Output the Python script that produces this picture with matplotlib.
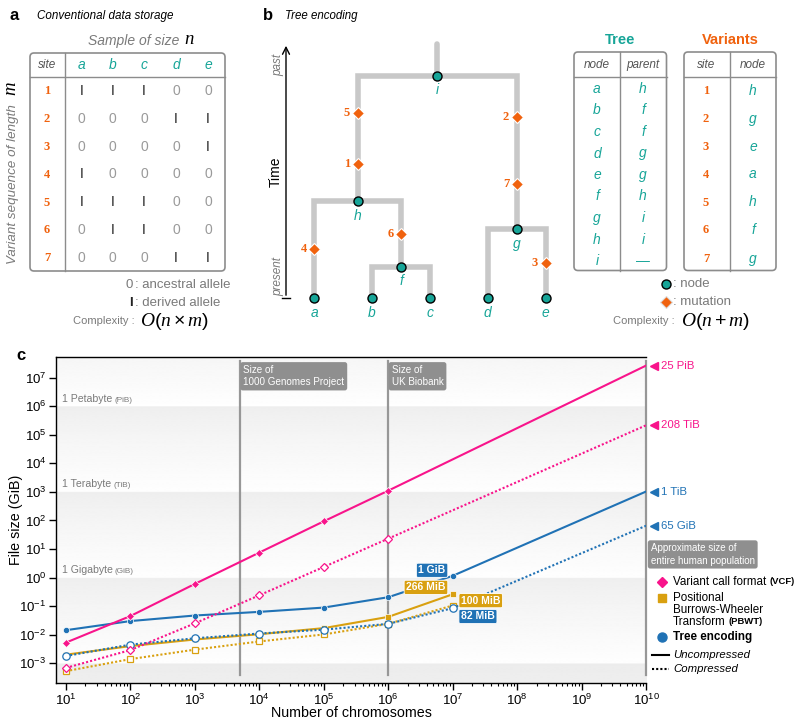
import numpy as np
import matplotlib.pyplot as plt
import matplotlib.transforms as mtransforms
from matplotlib.patches import FancyBboxPatch
from matplotlib.ticker import FixedLocator, NullLocator, NullFormatter

plt.rcParams['font.family'] = ['Liberation Sans', 'DejaVu Sans']
plt.rcParams['mathtext.fontset'] = 'custom'
plt.rcParams['mathtext.rm'] = 'Liberation Sans'
plt.rcParams['mathtext.it'] = 'Liberation Serif:italic'
plt.rcParams['mathtext.bf'] = 'Liberation Sans:bold'

TEAL = '#17a598'
ORANGE = '#f0620e'
PINK = '#f8148b'
BLUE = '#2072b5'
GOLD = '#d9a010'
FRAME = '#8c8c8c'
TGRAY = '#7a7a7a'
BRANCH = '#c8c8c8'

# panel a: genotype matrix
samples = ['a', 'b', 'c', 'd', 'e']
sites = ['1', '2', '3', '4', '5', '6', '7']
genotypes = [[1, 1, 1, 0, 0],
             [0, 0, 0, 1, 1],
             [0, 0, 0, 0, 1],
             [1, 0, 0, 0, 0],
             [1, 1, 1, 0, 0],
             [0, 1, 1, 0, 0],
             [0, 0, 0, 1, 1]]

# panel b: tree and tables
leaves = ['a', 'b', 'c', 'd', 'e']
internal = ['f', 'g', 'h', 'i']
tree_nodes = leaves + internal
tree_parents = ['h', 'f', 'f', 'g', 'g', 'h', 'i', 'i', '—']
node_times = [0, 0, 0, 0, 0, 1.0, 2.2, 3.1, 7.1]
root_top = 8.1
mut_nodes = ['h', 'g', 'e', 'a', 'h', 'f', 'g']
mut_times = [4.27, 5.78, 1.13, 1.57, 5.92, 2.03, 3.63]

# panel c: file sizes in GiB
chrom = [1e1, 1e2, 1e3, 1e4, 1e5, 1e6, 1e7]
vcf_unc = [0.0053, 0.045, 0.6, 7.5, 93, 1100]
vcf_cmp = [0.00069, 0.0029, 0.025, 0.24, 2.35, 23]
pbwt_unc = [0.0020, 0.0040, 0.0068, 0.0104, 0.017, 0.042, 0.26]
pbwt_cmp = [0.00053, 0.0014, 0.0030, 0.0058, 0.0102, 0.024, 0.105]
tree_unc = [0.0144, 0.030, 0.047, 0.063, 0.089, 0.205, 1.15]
tree_cmp = [0.0018, 0.0045, 0.0075, 0.011, 0.015, 0.024, 0.085]
# extrapolation to the whole human population
vcf_ext_x = [1e6, 1e10]
tree_ext_x = [1e7, 1e10]
vcf_unc_ext = [1100, 25 * 1024 ** 2]
vcf_cmp_ext = [23, 208 * 1024]
tree_unc_ext = [1.15, 1024]
tree_cmp_ext = [0.085, 65]
cohort_sizes = [5000, 1e6]
cohort_labels = ['Size of\n1000 Genomes Project', 'Size of\nUK Biobank']
population = 1e10
bands = [1e6, 1e3, 1e0]
band_names = [('1 Petabyte', '(PiB)'), ('1 Terabyte', '(TiB)'), ('1 Gigabyte', '(GiB)')]
x_ticks = [10.0 ** e for e in range(1, 11)]
y_ticks = [10.0 ** e for e in range(-3, 8)]

fig = plt.figure(figsize=(8, 7.26), dpi=100)
rect = [56 / 800, 1 - 682.7 / 726, 590 / 800, (682.7 - 357) / 726]
ylo, yhi = -3.68, 7.72

# gradient background bands of panel c
bg = fig.add_axes(rect)
ys = np.linspace(ylo, yhi, 800)
lv = np.empty_like(ys)
for k, y in enumerate(ys):
    if y >= 6:
        f = (yhi - y) / (yhi - 6)
        lv[k] = 0.964 + 0.034 * f
    elif y >= -3:
        top = -3 + 3 * np.floor((y + 3) / 3) + 3
        f = (top - y) / 3
        lv[k] = 0.932 + 0.064 * f ** 0.8
    else:
        f = (-3 - y) / (-3 - ylo)
        lv[k] = 0.925 + 0.01 * f
bg.imshow(lv[:, None], extent=[0, 1, ylo, yhi], origin='lower', aspect='auto',
          cmap='gray', vmin=0, vmax=1, interpolation='bilinear')
bg.set_xlim(0, 1)
bg.set_ylim(ylo, yhi)
bg.axis('off')

ax = fig.add_axes(rect)
ax.patch.set_visible(False)
ax.set_xscale('log')
ax.set_yscale('log')
ax.set_xlim(10 ** 0.845, 1e10)
ax.set_ylim(10 ** ylo, 10 ** yhi)

box_style = dict(boxstyle='round,pad=0.3,rounding_size=0.25', fc='#8f8f8f', ec='none')
for x, lab in zip(cohort_sizes, cohort_labels):
    ax.axvline(x, ymin=0.024, ymax=0.988, color='#979797', lw=1.6, zorder=1)
    ax.annotate(lab, xy=(x, 0.988), xycoords=('data', 'axes fraction'),
                xytext=(2.4, -3.0), textcoords='offset points', ha='left', va='top',
                color='white', fontsize=7.1, linespacing=1.3, bbox=box_style)
ax.axvline(population, ymin=0.024, ymax=0.988, color='#979797', lw=1.6, zorder=1, clip_on=False)
ax.annotate('Approximate size of\nentire human population', xy=(population, 0.441),
            xycoords=('data', 'axes fraction'), xytext=(3.4, -3.0), textcoords='offset points',
            ha='left', va='top', color='white', fontsize=7.0, linespacing=1.3,
            annotation_clip=False, bbox=box_style)

blend = mtransforms.blended_transform_factory(ax.transAxes, ax.transData)
for b, (name, unit) in zip(bands, band_names):
    t = ax.text(0.01, b * 10 ** 0.09, name, transform=blend, fontsize=7.6, color=TGRAY,
                ha='left', va='bottom')
    ax.annotate(unit, xy=(1, 0), xycoords=t, xytext=(1.5, 0), textcoords='offset points',
                fontsize=5.9, color=TGRAY, ha='left', va='bottom')

dots = (0, (1, 1))
ax.plot(vcf_ext_x, vcf_unc_ext, color=PINK, lw=1.5, zorder=3)
ax.plot(vcf_ext_x, vcf_cmp_ext, color=PINK, lw=1.5, ls=dots, zorder=3)
ax.plot(tree_ext_x, tree_unc_ext, color=BLUE, lw=1.5, zorder=3)
ax.plot(tree_ext_x, tree_cmp_ext, color=BLUE, lw=1.5, ls=dots, zorder=3)

ax.plot(chrom, pbwt_cmp, color=GOLD, lw=1.5, ls=dots, marker='s', ms=4.3,
        mfc='white', mec=GOLD, mew=0.9, zorder=4)
ax.plot(chrom, pbwt_unc, color=GOLD, lw=1.5, marker='s', ms=4, mec='white', mew=0.5, zorder=4)
ax.plot(chrom, tree_cmp, color=BLUE, lw=1.5, ls=dots, marker='o', ms=5.3,
        mfc='white', mec=BLUE, mew=0.9, zorder=5)
ax.plot(chrom, tree_unc, color=BLUE, lw=1.5, marker='o', ms=4.5, mec='white', mew=0.5, zorder=5)
ax.plot(chrom[:6], vcf_cmp, color=PINK, lw=1.5, ls=dots, marker='D', ms=4.5,
        mfc='white', mec=PINK, mew=0.9, zorder=5)
ax.plot(chrom[:6], vcf_unc, color=PINK, lw=1.5, marker='D', ms=4, mec='white', mew=0.5, zorder=5)

point_labels = [('1 GiB', tree_unc[-1], BLUE, 'right', (-5, 4)),
                ('266 MiB', pbwt_unc[-1], GOLD, 'right', (-5, 5)),
                ('100 MiB', pbwt_cmp[-1], GOLD, 'left', (6, 3.5)),
                ('82 MiB', tree_cmp[-1], BLUE, 'left', (6, -6))]
for lab, y, c, ha, off in point_labels:
    ax.annotate(lab, xy=(chrom[-1], y), xytext=off, textcoords='offset points',
                ha=ha, va='center', color='white', fontsize=7.5, fontweight='bold', zorder=6,
                bbox=dict(boxstyle='round,pad=0.2,rounding_size=0.15', fc=c, ec='white', lw=0.6))

end_labels = [('25 PiB', vcf_unc_ext[-1], PINK), ('208 TiB', vcf_cmp_ext[-1], PINK),
              ('1 TiB', tree_unc_ext[-1], BLUE), ('65 GiB', tree_cmp_ext[-1], BLUE)]
for lab, y, c in end_labels:
    ax.plot([1.013], [y], marker='<', ms=6, color=c, transform=blend, clip_on=False)
    ax.text(1.026, y, lab, transform=blend, color=c, fontsize=8.2, ha='left', va='center')

for s in ['left', 'bottom', 'top']:
    ax.spines[s].set_linewidth(1)
ax.spines['right'].set_visible(False)
ax.xaxis.set_major_locator(FixedLocator(x_ticks))
ax.xaxis.set_minor_locator(FixedLocator([m * t for t in x_ticks[:-1] for m in range(2, 10)]))
ax.xaxis.set_minor_formatter(NullFormatter())
ax.yaxis.set_major_locator(FixedLocator(y_ticks))
ax.yaxis.set_minor_locator(NullLocator())
ax.tick_params(which='major', length=5, width=1, labelsize=9.5, direction='out', pad=2)
ax.tick_params(which='minor', length=2.5, width=0.8, direction='out')
ax.set_xlabel('Number of chromosomes', fontsize=10.3)
ax.set_ylabel('File size (GiB)', fontsize=10.3)
ax.xaxis.set_label_coords(0.5, -0.072)
ax.yaxis.set_label_coords(-0.056, 0.5)

# overlay in pixel coordinates for panels a and b, and legend of c
ov = fig.add_axes([0, 0, 1, 1])
ov.set_xlim(0, 800)
ov.set_ylim(726, 0)
ov.axis('off')

def frame(x0, x1, y0, y1, head_y, col_x):
    ov.add_patch(FancyBboxPatch((x0, y0), x1 - x0, y1 - y0,
                                boxstyle='round,pad=0,rounding_size=4',
                                fc='none', ec=FRAME, lw=1.2))
    ov.plot([x0, x1], [head_y, head_y], color=FRAME, lw=1)
    ov.plot([col_x, col_x], [y0, y1], color=FRAME, lw=1)

serif_bold = dict(family='Liberation Serif', fontweight='bold')

# ---- panel a
ov.text(10, 16, 'a', fontsize=12, fontweight='bold', va='center')
ov.text(37, 16, 'Conventional data storage', fontsize=8.4, style='italic', va='center')
ov.text(183, 41, 'Sample of size ', fontsize=10, style='italic', color=TGRAY,
        ha='right', va='center')
ov.text(184, 40, '$n$', fontsize=13.5, ha='left', va='center')
ov.text(13, 184, 'Variant sequence of length', fontsize=9.6, style='italic', color=TGRAY,
        rotation=90, ha='center', va='center')
ov.text(12, 89, '$m$', fontsize=13.5, rotation=90, ha='center', va='center')
frame(30, 225, 53, 271, 77, 65)
ov.text(47, 65, 'site', fontsize=8.5, style='italic', color='#555555', ha='center', va='center')
col_x = [81.3, 112.7, 144, 176, 208]
row_y = [91, 119, 147, 174.5, 202.5, 230, 258]
for cx, s in zip(col_x, samples):
    ov.text(cx, 65, s, fontsize=10, style='italic', color=TEAL, ha='center', va='center')
for ry, site, row in zip(row_y, sites, genotypes):
    ov.text(47, ry, site, fontsize=9, color=ORANGE, ha='center', va='center', **serif_bold)
    for cx, g in zip(col_x, row):
        if g:
            ov.text(cx, ry, 'I', fontsize=10, color='#222222', ha='center', va='center')
        else:
            ov.text(cx, ry, '0', fontsize=10, color='#9a9a9a', ha='center', va='center')
ov.text(133, 285, '0', fontsize=9.5, color=TGRAY, ha='right', va='center')
ov.text(135, 285, ': ancestral allele', fontsize=9.5, color=TGRAY, ha='left', va='center')
ov.text(133, 303, 'I', fontsize=9.5, color='#222222', fontweight='bold', ha='right', va='center')
ov.text(135, 303, ': derived allele', fontsize=9.5, color=TGRAY, ha='left', va='center')
ov.text(135, 321, 'Complexity :', fontsize=8, color=TGRAY, ha='right', va='center')
ov.text(140, 322, r'$O(n \times m)$', fontsize=14, ha='left', va='center')

# ---- panel b: tree
ov.text(263, 16, 'b', fontsize=12, fontweight='bold', va='center')
ov.text(285, 16, 'Tree encoding', fontsize=8.3, style='italic', va='center')
ov.annotate('', xy=(286, 43), xytext=(286, 298),
            arrowprops=dict(arrowstyle='->,head_length=0.5,head_width=0.25', lw=1, color='black'))
ov.plot([282, 290], [298, 298], color='black', lw=1)
ov.text(278, 65, 'past', fontsize=8.5, style='italic', color=TGRAY, rotation=90,
        ha='center', va='center')
ov.text(278, 277, 'present', fontsize=8.5, style='italic', color=TGRAY, rotation=90,
        ha='center', va='center')
ov.text(276, 172, 'Time', fontsize=10, rotation=90, ha='center', va='center')

tr = mtransforms.Affine2D().scale(57.85, -31.3).translate(314.3, 298) + ov.transData
pos = {n: float(k) for k, n in enumerate(leaves)}
tim = dict(zip(tree_nodes, node_times))
par = dict(zip(tree_nodes, tree_parents))
for n in internal:
    kids = [k for k in tree_nodes if par[k] == n]
    pos[n] = np.mean([pos[k] for k in kids])
for n in tree_nodes:
    p = par[n]
    if p in pos:
        ov.plot([pos[n], pos[n], pos[p]], [tim[n], tim[p], tim[p]], transform=tr,
                color=BRANCH, lw=4, solid_joinstyle='miter', solid_capstyle='butt', zorder=2)
ov.plot([pos['i'], pos['i']], [tim['i'], root_top], transform=tr, color=BRANCH, lw=4,
        solid_capstyle='round', zorder=2)
ov.plot([pos[n] for n in tree_nodes], node_times, 'o', transform=tr, ms=6.5,
        mfc=TEAL, mec='black', mew=1, zorder=4)
for n in tree_nodes:
    ov.annotate(n, xy=(pos[n], tim[n]), xycoords=tr, xytext=(0, -10.5),
                textcoords='offset points', fontsize=10, style='italic', color=TEAL,
                ha='center', va='center')
mx = [pos[n] for n in mut_nodes]
ov.plot(mx, mut_times, 'D', transform=tr, ms=5.8, mfc=ORANGE, mec='white', mew=0.8, zorder=4)
for site, x, t in zip(sites, mx, mut_times):
    ov.annotate(site, xy=(x, t), xycoords=tr, xytext=(-5.5, 0), textcoords='offset points',
                fontsize=9, color=ORANGE, ha='right', va='center', **serif_bold)

# ---- panel b: tables
ov.text(620, 40, 'Tree', fontsize=10.5, fontweight='bold', color=TEAL, ha='center', va='center')
ov.text(730, 40, 'Variants', fontsize=10.5, fontweight='bold', color=ORANGE, ha='center', va='center')
frame(574, 666.5, 52, 270.5, 77, 620.3)
frame(684, 776, 52, 270.5, 77, 730)
for x, h in [(597, 'node'), (643, 'parent'), (706, 'site'), (753, 'node')]:
    ov.text(x, 65, h, fontsize=8.5, style='italic', color='#555555', ha='center', va='center')
tree_row_y = np.linspace(89, 261, len(tree_nodes))
for y, n, p in zip(tree_row_y, tree_nodes, tree_parents):
    ov.text(597, y, n, fontsize=10, style='italic', color=TEAL, ha='center', va='center')
    ov.text(643, y, p, fontsize=10, style='italic' if p != '—' else 'normal', color=TEAL,
            ha='center', va='center')
var_row_y = [91, 119.5, 147, 174.5, 202.5, 230, 258.5]
for y, s, n in zip(var_row_y, sites, mut_nodes):
    ov.text(706, y, s, fontsize=9, color=ORANGE, ha='center', va='center', **serif_bold)
    ov.text(753, y, n, fontsize=10, style='italic', color=TEAL, ha='center', va='center')
ov.plot([666], [284], 'o', ms=6.5, mfc=TEAL, mec='black', mew=1)
ov.text(673, 284, ': node', fontsize=9.5, color=TGRAY, ha='left', va='center')
ov.plot([666], [302], 'D', ms=5.8, mfc=ORANGE, mec='#dddddd', mew=0.8)
ov.text(673, 302, ': mutation', fontsize=9.5, color=TGRAY, ha='left', va='center')
ov.text(675, 321, 'Complexity :', fontsize=8, color=TGRAY, ha='right', va='center')
ov.text(681, 322, r'$O(n + m)$', fontsize=14, ha='left', va='center')

# ---- panel c label and legend
ov.text(16, 356, 'c', fontsize=12, fontweight='bold', va='center')
lx, tx, fs = 661.5, 673, 8.4
ov.plot([lx], [582], 'D', ms=5.5, color=PINK)
t = ov.text(tx, 582, 'Variant call format', fontsize=fs, va='center')
ov.annotate('(VCF)', xy=(1, 0.5), xycoords=t, xytext=(2, 0), textcoords='offset points',
            fontsize=6.8, fontweight='bold', va='center')
ov.plot([lx], [598], 's', ms=5.5, color=GOLD)
ov.text(tx, 598, 'Positional', fontsize=fs, va='center')
ov.text(tx, 610, 'Burrows-Wheeler', fontsize=fs, va='center')
t = ov.text(tx, 622, 'Transform', fontsize=fs, va='center')
ov.annotate('(PBWT)', xy=(1, 0.5), xycoords=t, xytext=(2, 0), textcoords='offset points',
            fontsize=6.8, fontweight='bold', va='center')
ov.plot([lx], [637], 'o', ms=6.5, color=BLUE)
ov.text(tx, 637, 'Tree encoding', fontsize=fs, fontweight='bold', va='center')
ov.plot([652, 669], [655, 655], color='black', lw=1.5)
ov.text(tx, 655, 'Uncompressed', fontsize=8.2, style='italic', va='center')
ov.plot([652, 669], [669, 669], color='black', lw=1.5, ls=dots)
ov.text(tx, 669, 'Compressed', fontsize=8.2, style='italic', va='center')

fig.savefig('out.png', dpi=100)
